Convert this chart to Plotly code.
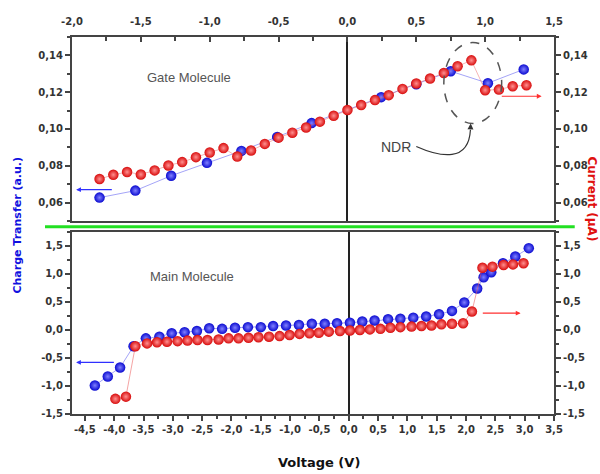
import plotly.graph_objects as go

# ---------------- data ----------------
# Top panel: Gate Molecule
top_blue_v = [-1.80, -1.54, -1.28, -1.02, -0.77, -0.51, -0.26, 0.245, 0.50, 0.75, 1.02, 1.28]
top_blue_q = [0.0627, 0.0665, 0.0746, 0.0816, 0.0881, 0.0957, 0.1032, 0.1173, 0.1243, 0.1314, 0.1249, 0.1324]

top_red_v = [-1.8, -1.7, -1.6, -1.5, -1.4, -1.3, -1.2, -1.1, -1.0, -0.9, -0.8, -0.7, -0.6, -0.5, -0.4, -0.3,
             -0.2, -0.1, 0.0, 0.1, 0.2, 0.3, 0.4, 0.5, 0.6, 0.7, 0.8, 0.9, 1.0, 1.1, 1.2, 1.3]
top_red_i = [0.0728, 0.0751, 0.0766, 0.0753, 0.0775, 0.0802, 0.0820, 0.0847, 0.0872, 0.0896, 0.0850, 0.0883,
             0.0919, 0.0953, 0.0980, 0.1008, 0.1040, 0.1072, 0.1103, 0.1130, 0.1157, 0.1184, 0.1218, 0.1247,
             0.1274, 0.1304, 0.1341, 0.1373, 0.1211, 0.1214, 0.1232, 0.1238]

# Bottom panel: Main Molecule
bot_blue_v = [-4.33, -4.11, -3.90, -3.67, -3.46, -3.23, -3.02, -2.80, -2.59, -2.38, -2.16, -1.94, -1.72,
              -1.50, -1.29, -1.07, -0.85, -0.63, -0.41, -0.20, 0.02, 0.23, 0.44, 0.67, 0.88, 1.10, 1.32,
              1.54, 1.76, 1.97, 2.19, 2.30, 2.43, 2.63, 2.84, 3.07]
bot_blue_q = [-0.99, -0.83, -0.67, -0.29, -0.15, -0.12, -0.06, -0.04, -0.02, 0.03, 0.02, 0.04, 0.05,
              0.05, 0.07, 0.08, 0.09, 0.11, 0.11, 0.12, 0.13, 0.15, 0.17, 0.19, 0.20, 0.22, 0.24,
              0.28, 0.34, 0.49, 0.74, 0.94, 1.03, 1.19, 1.31, 1.46]

bot_red_v = [-3.98, -3.80, -3.64, -3.44, -3.27, -3.10, -2.92, -2.75, -2.58, -2.41, -2.22, -2.05, -1.88,
             -1.71, -1.54, -1.36, -1.18, -1.01, -0.84, -0.67, -0.51, -0.34, -0.15, 0.02, 0.19, 0.36,
             0.54, 0.71, 0.88, 1.07, 1.24, 1.41, 1.58, 1.76, 1.95, 2.10, 2.28, 2.45, 2.64, 2.80, 2.98]
bot_red_i = [-1.23, -1.19, -0.29, -0.24, -0.22, -0.21, -0.20, -0.19, -0.18, -0.18, -0.17, -0.15, -0.15,
             -0.14, -0.13, -0.12, -0.11, -0.09, -0.07, -0.06, -0.05, -0.03, -0.02, -0.01, 0.00, 0.01,
             0.02, 0.04, 0.05, 0.06, 0.07, 0.08, 0.10, 0.11, 0.12, 0.33, 1.11, 1.13, 1.16, 1.17, 1.19]

# tick labels
top_x_ticks = [-2.0, -1.5, -1.0, -0.5, 0.0, 0.5, 1.0, 1.5]
top_x_labels = ["-2,0", "-1,5", "-1,0", "-0,5", "0,0", "0,5", "1,0", "1,5"]
top_y_ticks = [0.06, 0.08, 0.10, 0.12, 0.14]
top_y_labels = ["0,06", "0,08", "0,10", "0,12", "0,14"]
bot_x_ticks = [-4.5, -4.0, -3.5, -3.0, -2.5, -2.0, -1.5, -1.0, -0.5, 0.0, 0.5, 1.0, 1.5, 2.0, 2.5, 3.0, 3.5]
bot_x_labels = ["-4,5", "-4,0", "-3,5", "-3,0", "-2,5", "-2,0", "-1,5", "-1,0", "-0,5", "0,0",
                "0,5", "1,0", "1,5", "2,0", "2,5", "3,0", "3,5"]
bot_y_ticks = [-1.5, -1.0, -0.5, 0.0, 0.5, 1.0, 1.5]
bot_y_labels = ["-1,5", "-1,0", "-0,5", "0,0", "0,5", "1,0", "1,5"]

# ---------------- styles ----------------
BLUE = "#0a0ad0"
BLUE_HI = "#8080ff"
RED = "#d80c0c"
RED_HI = "#ff9090"
AXC = "#444444"
TICKFONT = dict(family="DejaVu Sans", size=10, color="#333333", weight="bold")


def mk(color, hi):
    return dict(size=10.5, color=color, gradient=dict(type="radial", color=hi), line=dict(width=0))


fig = go.Figure()

# bottom panel
fig.add_trace(go.Scatter(x=bot_red_v, y=bot_red_i, xaxis="x", yaxis="y2", mode="lines+markers",
                         line=dict(color="rgba(235,90,90,0.55)", width=1), marker=mk(RED, RED_HI),
                         name="Current", showlegend=False))
fig.add_trace(go.Scatter(x=bot_blue_v, y=bot_blue_q, xaxis="x", yaxis="y", mode="lines+markers",
                         line=dict(color="rgba(90,90,240,0.55)", width=1), marker=mk(BLUE, BLUE_HI),
                         name="Charge", showlegend=False))
# top panel
fig.add_trace(go.Scatter(x=top_red_v, y=top_red_i, xaxis="x2", yaxis="y4", mode="lines+markers",
                         line=dict(color="rgba(235,90,90,0.45)", width=1), marker=mk(RED, RED_HI),
                         name="Current gate", showlegend=False))
fig.add_trace(go.Scatter(x=top_blue_v, y=top_blue_q, xaxis="x2", yaxis="y3", mode="lines+markers",
                         line=dict(color="rgba(90,90,240,0.55)", width=1), marker=mk(BLUE, BLUE_HI),
                         name="Charge gate", showlegend=False))

common = dict(showline=True, linecolor=AXC, linewidth=2, mirror=True, showgrid=False,
              tickcolor=AXC, tickwidth=1.5, ticklen=5, tickfont=TICKFONT, tickmode="array")

BOT_DOM = [0.0, 0.483]
TOP_DOM = [0.512, 1.0]

fig.update_layout(
    width=600, height=474,
    margin=dict(l=72, r=44, t=37, b=60),
    paper_bgcolor="white", plot_bgcolor="white",
    showlegend=False,
    xaxis=dict(common, domain=[0, 1], anchor="y", range=[-4.72, 3.5], tickvals=bot_x_ticks,
               ticktext=bot_x_labels, ticks="outside", zeroline=True, zerolinecolor="#222222",
               zerolinewidth=2, minor=dict(ticks="outside", ticklen=3, tickcolor=AXC, dtick=0.25)),
    xaxis2=dict(common, domain=[0, 1], anchor="y3", side="top", range=[-2.0, 1.5], tickvals=top_x_ticks,
                ticktext=top_x_labels, ticks="inside", ticklabelstandoff=6, zeroline=True,
                zerolinecolor="#222222", zerolinewidth=2,
                minor=dict(ticks="inside", ticklen=4, tickcolor=AXC, dtick=0.25)),
    yaxis=dict(common, domain=BOT_DOM, anchor="x", range=[-1.5, 1.75], tickvals=bot_y_ticks,
               ticktext=bot_y_labels, ticks="outside", zeroline=False,
               minor=dict(ticks="outside", ticklen=3, tickcolor=AXC, dtick=0.25)),
    yaxis2=dict(common, overlaying="y", side="right", anchor="x", range=[-1.5, 1.75],
                tickvals=bot_y_ticks, ticktext=bot_y_labels, ticks="outside", zeroline=False,
                minor=dict(ticks="outside", ticklen=3, tickcolor=AXC, dtick=0.25)),
    yaxis3=dict(common, domain=TOP_DOM, anchor="x2", range=[0.05, 0.15], tickvals=top_y_ticks,
                ticktext=top_y_labels, ticks="outside", zeroline=False,
                minor=dict(ticks="outside", ticklen=3, tickcolor=AXC, dtick=0.01)),
    yaxis4=dict(common, overlaying="y3", side="right", anchor="x2", range=[0.05, 0.15],
                tickvals=top_y_ticks, ticktext=top_y_labels, ticks="outside", zeroline=False,
                minor=dict(ticks="outside", ticklen=3, tickcolor=AXC, dtick=0.01)),
)

# green separator line
fig.add_shape(type="line", xref="paper", yref="paper", x0=-0.056, x1=1.043, y0=0.497, y1=0.497,
              line=dict(color="#22e022", width=3))

# NDR dashed ellipse
fig.add_shape(type="circle", xref="x2", yref="y3", x0=0.70, x1=1.12, y0=0.103, y1=0.147,
              line=dict(color="#555555", width=1.5, dash="dash"))
# curved NDR arrow
fig.add_shape(type="path", xref="x2", yref="y3",
              path="M 0.50,0.0905 C 0.68,0.0845 0.88,0.0820 0.893,0.0995",
              line=dict(color="#333333", width=1.2))

ann = []
ann.append(dict(xref="x2", yref="y3", axref="x2", ayref="y3", x=0.895, y=0.1030, ax=0.893, ay=0.0990,
                text="", showarrow=True, arrowhead=2, arrowsize=1, arrowwidth=1.2, arrowcolor="#333333"))
# direction arrows
ann.append(dict(xref="x2", yref="y3", axref="x2", ayref="y3", x=-1.97, y=0.0670, ax=-1.70, ay=0.0670,
                text="", showarrow=True, arrowhead=2, arrowsize=0.8, arrowwidth=1.2, arrowcolor="#3030ff"))
ann.append(dict(xref="x2", yref="y3", axref="x2", ayref="y3", x=1.41, y=0.1178, ax=1.11, ay=0.1178,
                text="", showarrow=True, arrowhead=2, arrowsize=0.8, arrowwidth=1.2, arrowcolor="#ff3030"))
ann.append(dict(xref="x", yref="y", axref="x", ayref="y", x=-4.65, y=-0.58, ax=-3.98, ay=-0.58,
                text="", showarrow=True, arrowhead=2, arrowsize=0.8, arrowwidth=1.2, arrowcolor="#3030ff"))
ann.append(dict(xref="x", yref="y", axref="x", ayref="y", x=2.93, y=0.30, ax=2.26, ay=0.30,
                text="", showarrow=True, arrowhead=2, arrowsize=0.8, arrowwidth=1.2, arrowcolor="#ff3030"))
# texts
ann.append(dict(xref="x2", yref="y3", x=-1.15, y=0.128, text="Gate Molecule", showarrow=False,
                font=dict(family="Liberation Sans", size=13, color="#555555")))
ann.append(dict(xref="x", yref="y", x=-2.67, y=0.95, text="Main Molecule", showarrow=False,
                font=dict(family="Liberation Sans", size=13, color="#555555")))
ann.append(dict(xref="x2", yref="y3", x=0.35, y=0.0900, text="NDR", showarrow=False,
                font=dict(family="Liberation Sans", size=14, color="#444444")))
# axis titles
ann.append(dict(xref="paper", yref="paper", x=0.512, y=-0.128, text="Voltage (V)", showarrow=False,
                xanchor="center", yanchor="middle",
                font=dict(family="DejaVu Sans", size=13, color="#111111", weight="bold")))
ann.append(dict(xref="paper", yref="paper", x=-0.114, y=0.50, text="Charge Transfer (a.u.)",
                showarrow=False, textangle=-90, xanchor="center", yanchor="middle",
                font=dict(family="DejaVu Sans", size=11, color="#1010e0", weight="bold")))
ann.append(dict(xref="paper", yref="paper", x=1.078, y=0.57, text="Current (μA)",
                showarrow=False, textangle=90, xanchor="center", yanchor="middle",
                font=dict(family="DejaVu Sans", size=12, color="#e01010", weight="bold")))
fig.update_layout(annotations=ann)

fig.write_html("out.html", config={"displayModeBar": False},
               post_script="document.body.style.margin='0px';document.body.style.padding='0px';")
